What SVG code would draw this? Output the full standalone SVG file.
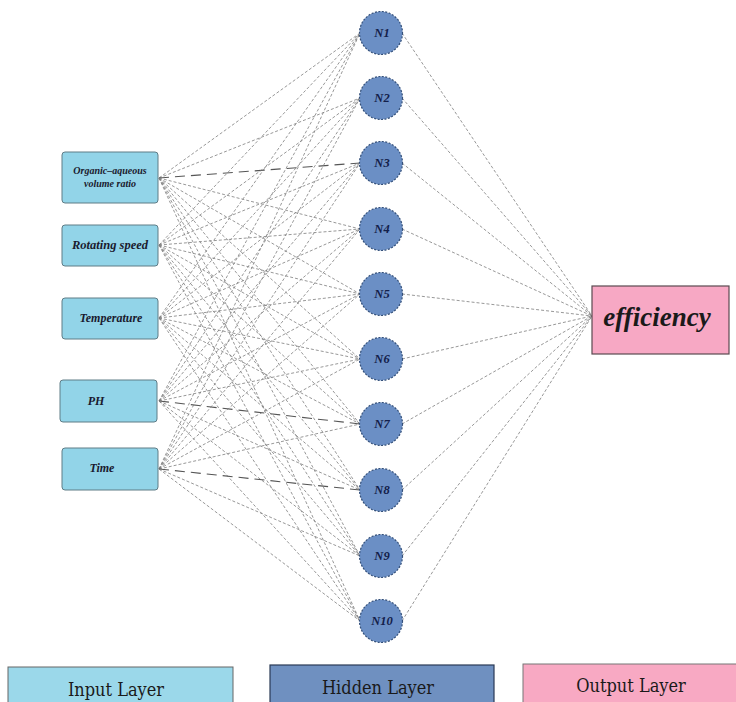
<svg xmlns="http://www.w3.org/2000/svg" width="736" height="702" viewBox="0 0 736 702">
<style>
.in rect{fill:#92d4e8;stroke:#5f7c86;stroke-width:1}
.in text{font-family:"Liberation Serif",serif;font-weight:bold;font-style:italic;fill:#1a1a2e;text-anchor:middle}
.hn circle{fill:#6b8fc5;stroke:#34507a;stroke-width:1.2;stroke-dasharray:2 1.5}
.hn text{font-family:"Liberation Serif",serif;font-weight:bold;font-style:italic;font-size:12.5px;fill:#13204a;text-anchor:middle}
.c line{stroke:#7d7d7d;stroke-width:0.8;stroke-dasharray:3 2;fill:none}
.c line.d{stroke:#555;stroke-width:1.1;stroke-dasharray:10 6}
.lg text{font-family:"DejaVu Serif",serif;font-stretch:condensed;font-size:18px;fill:#1a1a1a;text-anchor:middle}
</style>
<rect width="736" height="702" fill="#ffffff"/>
<g id="connectors" class="c">
<line x1="159" y1="178" x2="360" y2="33"/><line x1="159" y1="178" x2="360" y2="98"/><line class="d" x1="159" y1="178" x2="360" y2="163"/><line x1="159" y1="178" x2="360" y2="229"/><line x1="159" y1="178" x2="360" y2="294"/><line x1="159" y1="178" x2="360" y2="359"/><line x1="159" y1="178" x2="360" y2="424"/><line x1="159" y1="178" x2="360" y2="490"/><line x1="159" y1="178" x2="360" y2="556"/><line x1="159" y1="178" x2="360" y2="621"/>
<line x1="159" y1="245" x2="360" y2="33"/><line x1="159" y1="245" x2="360" y2="98"/><line x1="159" y1="245" x2="360" y2="163"/><line x1="159" y1="245" x2="360" y2="229"/><line x1="159" y1="245" x2="360" y2="294"/><line x1="159" y1="245" x2="360" y2="359"/><line x1="159" y1="245" x2="360" y2="424"/><line x1="159" y1="245" x2="360" y2="490"/><line x1="159" y1="245" x2="360" y2="556"/><line x1="159" y1="245" x2="360" y2="621"/>
<line x1="159" y1="318" x2="360" y2="33"/><line x1="159" y1="318" x2="360" y2="98"/><line x1="159" y1="318" x2="360" y2="163"/><line x1="159" y1="318" x2="360" y2="229"/><line x1="159" y1="318" x2="360" y2="294"/><line x1="159" y1="318" x2="360" y2="359"/><line x1="159" y1="318" x2="360" y2="424"/><line x1="159" y1="318" x2="360" y2="490"/><line x1="159" y1="318" x2="360" y2="556"/><line x1="159" y1="318" x2="360" y2="621"/>
<line x1="159" y1="401" x2="360" y2="33"/><line x1="159" y1="401" x2="360" y2="98"/><line x1="159" y1="401" x2="360" y2="163"/><line x1="159" y1="401" x2="360" y2="229"/><line x1="159" y1="401" x2="360" y2="294"/><line x1="159" y1="401" x2="360" y2="359"/><line class="d" x1="159" y1="401" x2="360" y2="424"/><line x1="159" y1="401" x2="360" y2="490"/><line x1="159" y1="401" x2="360" y2="556"/><line x1="159" y1="401" x2="360" y2="621"/>
<line x1="159" y1="469" x2="360" y2="33"/><line x1="159" y1="469" x2="360" y2="98"/><line x1="159" y1="469" x2="360" y2="163"/><line x1="159" y1="469" x2="360" y2="229"/><line x1="159" y1="469" x2="360" y2="294"/><line x1="159" y1="469" x2="360" y2="359"/><line x1="159" y1="469" x2="360" y2="424"/><line class="d" x1="159" y1="469" x2="360" y2="490"/><line x1="159" y1="469" x2="360" y2="556"/><line x1="159" y1="469" x2="360" y2="621"/>
<line x1="402" y1="33" x2="592" y2="316"/><line x1="402" y1="98" x2="592" y2="316"/><line x1="402" y1="163" x2="592" y2="316"/><line x1="402" y1="229" x2="592" y2="316"/><line x1="402" y1="294" x2="592" y2="316"/><line x1="402" y1="359" x2="592" y2="316"/><line x1="402" y1="424" x2="592" y2="316"/><line x1="402" y1="490" x2="592" y2="316"/><line x1="402" y1="556" x2="592" y2="316"/><line x1="402" y1="621" x2="592" y2="316"/>
</g>
<g id="in1" class="in"><rect x="62" y="152" width="96" height="51" rx="3"/><text x="110" y="174" font-size="10">Organic–aqueous</text><text x="110" y="187" font-size="10">volume ratio</text></g>
<g id="in2" class="in"><rect x="62" y="225" width="96" height="41" rx="3"/><text x="110" y="249" font-size="12.5">Rotating speed</text></g>
<g id="in3" class="in"><rect x="62" y="298" width="96" height="41" rx="3"/><text x="111" y="322" font-size="12">Temperature</text></g>
<g id="in4" class="in"><rect x="60" y="380" width="97" height="42" rx="3"/><text x="96" y="405" font-size="12">PH</text></g>
<g id="in5" class="in"><rect x="62" y="448" width="96" height="42" rx="3"/><text x="102" y="472" font-size="12">Time</text></g>
<g id="n1" class="hn"><circle cx="381" cy="33" r="21.5"/><text x="382" y="37">N1</text></g>
<g id="n2" class="hn"><circle cx="381" cy="98" r="21.5"/><text x="382" y="102">N2</text></g>
<g id="n3" class="hn"><circle cx="381" cy="163" r="21.5"/><text x="382" y="167">N3</text></g>
<g id="n4" class="hn"><circle cx="381" cy="229" r="21.5"/><text x="382" y="233">N4</text></g>
<g id="n5" class="hn"><circle cx="381" cy="294" r="21.5"/><text x="382" y="298">N5</text></g>
<g id="n6" class="hn"><circle cx="381" cy="359" r="21.5"/><text x="382" y="363">N6</text></g>
<g id="n7" class="hn"><circle cx="381" cy="424" r="21.5"/><text x="382" y="428">N7</text></g>
<g id="n8" class="hn"><circle cx="381" cy="490" r="21.5"/><text x="382" y="494">N8</text></g>
<g id="n9" class="hn"><circle cx="381" cy="556" r="21.5"/><text x="382" y="560">N9</text></g>
<g id="n10" class="hn"><circle cx="381" cy="621" r="21.5"/><text x="382" y="625">N10</text></g>
<g id="out"><rect x="592" y="286" width="137" height="68" fill="#f7a8c4" stroke="#5a4a50" stroke-width="1.2"/><text x="657" y="326" font-family="Liberation Serif,serif" font-weight="bold" font-style="italic" font-size="27" fill="#1a1a1a" text-anchor="middle">efficiency</text></g>
<g id="legend" class="lg">
<rect x="8" y="667" width="225" height="40" fill="#9bd8ea" stroke="#666" stroke-width="1"/><text x="116" y="696">Input Layer</text>
<rect x="270" y="665" width="224" height="42" fill="#6f90c0" stroke="#2a3a55" stroke-width="1.2"/><text x="378" y="694">Hidden Layer</text>
<rect x="523" y="664" width="220" height="43" fill="#f8a9c3" stroke="#777" stroke-width="1"/><text x="631" y="692">Output Layer</text>
</g>
</svg>
